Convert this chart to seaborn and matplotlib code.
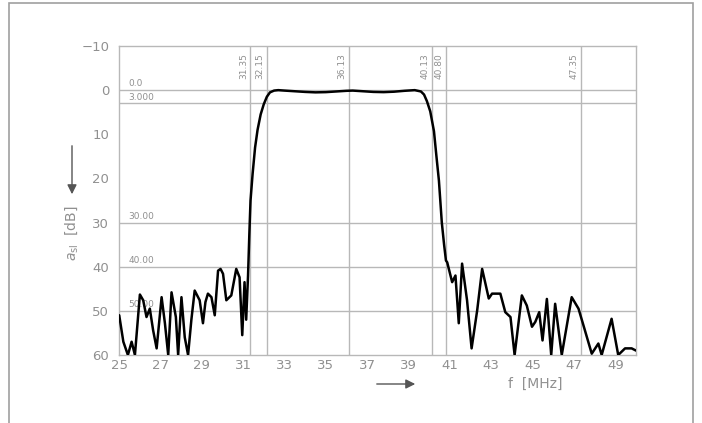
import numpy as np
import pandas as pd
import seaborn as sns
import matplotlib.pyplot as plt
from matplotlib.patches import Rectangle

# Filter attenuation curve (MHz, dB)
freq = [25.01, 25.21, 25.43, 25.61, 25.77, 26.01, 26.17, 26.33, 26.49, 26.65,
        26.82, 27.06, 27.22, 27.38, 27.54, 27.75, 27.86, 28.02, 28.18, 28.34,
        28.50, 28.66, 28.90, 29.06, 29.18, 29.30, 29.47, 29.63, 29.79, 29.91,
        30.03, 30.19, 30.43, 30.55, 30.67, 30.83, 30.96, 31.07, 31.15, 31.24,
        31.30, 31.36, 31.46, 31.58, 31.70, 31.85, 32.00, 32.15, 32.30, 32.50,
        32.70, 33.00, 33.50, 34.00, 34.50, 35.00, 35.50, 36.00, 36.30, 36.80,
        37.30, 37.80, 38.30, 38.80, 39.30, 39.60, 39.75, 39.89, 40.05, 40.23,
        40.35, 40.47, 40.61, 40.72, 40.81, 40.87, 41.11, 41.27, 41.43, 41.59,
        41.83, 42.05, 42.32, 42.56, 42.88, 43.04, 43.44, 43.68, 43.93, 44.13,
        44.48, 44.72, 44.97, 45.13, 45.32, 45.48, 45.69, 45.90, 46.09, 46.41,
        46.89, 47.22, 47.46, 47.86, 48.18, 48.34, 48.82, 49.14, 49.47, 49.79,
        50.00]
atten = [51.0, 57.0, 60.0, 57.0, 60.0, 46.3, 47.6, 51.4, 49.5, 54.4,
         58.5, 46.9, 52.8, 60.0, 45.8, 51.4, 60.0, 46.9, 56.0, 60.0,
         52.0, 45.4, 47.6, 52.8, 48.0, 46.1, 46.9, 51.0, 40.9, 40.5,
         41.6, 47.6, 46.5, 43.5, 40.5, 42.4, 55.5, 43.5, 52.0, 42.0,
         33.0, 25.0, 19.0, 13.0, 9.0, 5.5, 3.2, 1.5, 0.5, 0.1,
         0.0, 0.1, 0.25, 0.4, 0.5, 0.45, 0.3, 0.15, 0.1, 0.25,
         0.4, 0.45, 0.35, 0.15, 0.0, 0.3, 1.0, 2.5, 4.8, 9.3,
         15.0, 20.5, 30.0, 35.0, 38.6, 39.0, 43.5, 42.0, 52.8, 39.3,
         47.6, 58.5, 49.9, 40.5, 47.2, 46.1, 46.1, 50.3, 51.4, 60.0,
         46.5, 48.8, 53.6, 52.5, 50.3, 56.7, 47.3, 60.0, 48.4, 60.0,
         46.9, 49.5, 53.3, 59.7, 57.4, 60.0, 51.8, 60.0, 58.5, 58.5,
         59.0]

# marker lines and their labels
vlines = [31.35, 32.15, 36.13, 40.13, 40.80, 47.35]
vlabels = ['31.35', '32.15', '36.13', '40.13', '40.80', '47.35']
hlines = [0, 3, 30, 40, 50]
hlabels = ['0.0', '3.000', '30.00', '40.00', '50.00']

xticks = list(range(25, 50, 2))
yticks = list(range(-10, 61, 10))

df = pd.DataFrame({'f': freq, 'a': atten})

sns.set_style('white')
plt.rcParams['font.family'] = ['DejaVu Sans']
grey = '#909090'
lgrey = '#b8b8b8'

fig = plt.figure(figsize=(7.02, 4.23), dpi=100)
ax = fig.add_axes([119 / 702, 1 - 355 / 423, (636 - 119) / 702, (355 - 46) / 423])

# outer frame of the page (bottom edge lies outside the picture)
fig.patches.append(Rectangle((9 / 702, -0.2), (693 - 9) / 702, 1.2 - 3 / 423,
                             transform=fig.transFigure, fill=False,
                             edgecolor='#a0a0a0', linewidth=1.2))

for v, lab in zip(vlines, vlabels):
    ax.axvline(v, color=lgrey, linewidth=1.0, zorder=1)
    ax.text(v - 0.12, -5.5, lab, rotation=90, ha='right', va='center',
            fontsize=6.5, color=grey)
for h, lab in zip(hlines, hlabels):
    ax.axhline(h, color=lgrey, linewidth=1.0, zorder=1)
    ax.text(25.45, h - 0.4, lab, ha='left', va='bottom', fontsize=6.5,
            color=grey, zorder=2)

sns.lineplot(data=df, x='f', y='a', ax=ax, color='black', linewidth=1.8,
             estimator=None, sort=False, zorder=3,
             solid_joinstyle='round', solid_capstyle='round')

ax.set_xlim(25, 50)
ax.set_ylim(60, -10)
ax.set_xticks(xticks)
ax.set_xticks(range(26, 51, 2), minor=True)
ax.set_yticks(yticks)
ax.set_yticks(range(-5, 60, 10), minor=True)
ax.set_yticklabels([str(t).replace('-', '\u2212') for t in yticks])
ax.tick_params(axis='y', which='major', direction='out', length=4, width=1,
               color=lgrey, labelcolor=grey, labelsize=9.5, pad=3)
ax.tick_params(axis='y', which='minor', direction='in', length=3, width=1,
               color=lgrey)
ax.tick_params(axis='x', which='both', direction='in', length=3, width=1,
               color=lgrey, labelcolor=grey, labelsize=9.5, pad=3)
ax.set_xlabel('')
ax.set_ylabel('')
for sp in ax.spines.values():
    sp.set_color(lgrey)
    sp.set_linewidth(1.0)

# axis captions with direction arrows
fig.text(72 / 702, 1 - 233 / 423, r'$a_{\mathrm{sl}}$  [dB]', rotation=90,
         ha='center', va='center', fontsize=10, color=grey)
ax.annotate('', xy=(72 / 702, 1 - 197 / 423), xytext=(72 / 702, 1 - 143 / 423),
            xycoords='figure fraction', textcoords='figure fraction',
            arrowprops=dict(arrowstyle='-|>', color='#555555', linewidth=1,
                            mutation_scale=14))
fig.text(535 / 702, 1 - 384 / 423, 'f  [MHz]', ha='center', va='center',
         fontsize=10, color=grey)
ax.annotate('', xy=(418 / 702, 1 - 384 / 423), xytext=(374 / 702, 1 - 384 / 423),
            xycoords='figure fraction', textcoords='figure fraction',
            arrowprops=dict(arrowstyle='-|>', color='#555555', linewidth=1,
                            mutation_scale=14))

fig.savefig('out.png', dpi=100)
